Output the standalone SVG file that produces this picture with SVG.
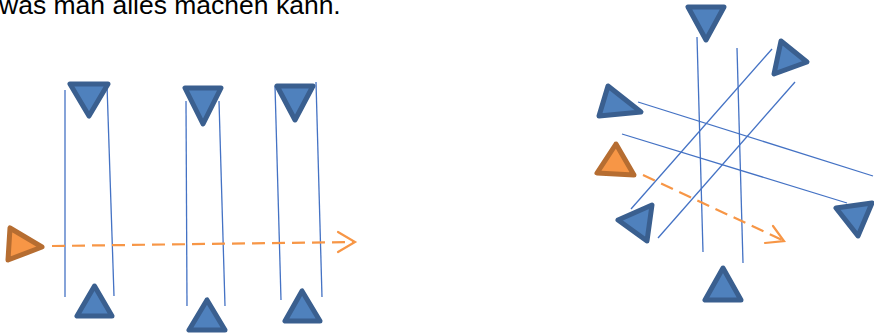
<svg xmlns="http://www.w3.org/2000/svg" width="874" height="334" viewBox="0 0 874 334">
<defs>
<style>
.tb{fill:#4F81BD;stroke:#3A5F8F;stroke-width:5;stroke-linejoin:round}
.to{fill:#F79646;stroke:#B66D31;stroke-width:5;stroke-linejoin:round}
.ln{stroke:#4472C4;stroke-width:1.3;fill:none}
.da{stroke:#F79646;stroke-width:2.2;fill:none;stroke-dasharray:13 7}
.ah{stroke:#F79646;stroke-width:2.2;fill:none;stroke-linecap:round}
.tx{font-family:'Liberation Sans',Arial,sans-serif;font-size:26.5px;fill:#000}
</style>
</defs>
<rect width="874" height="334" fill="#fff"/>
<text class="tx" x="-1" y="13.5">was man alles machen kann.</text>
<g id="connectors">
<line class="ln" x1="65" y1="90" x2="65" y2="297"/>
<line class="ln" x1="107" y1="85" x2="114" y2="296"/>
<line class="ln" x1="186" y1="101" x2="187" y2="306"/>
<line class="ln" x1="219" y1="101" x2="225" y2="306"/>
<line class="ln" x1="275" y1="86" x2="281" y2="300"/>
<line class="ln" x1="316" y1="82" x2="322" y2="297"/>
<line class="da" x1="52" y1="246" x2="353" y2="242"/>
<polyline class="ah" points="338,232 355,242 338,252"/>
<line class="ln" x1="697" y1="37" x2="703" y2="252"/>
<line class="ln" x1="737" y1="48" x2="743" y2="263"/>
<line class="ln" x1="772" y1="49" x2="631" y2="209"/>
<line class="ln" x1="795" y1="82" x2="658" y2="238"/>
<line class="ln" x1="638" y1="102" x2="873" y2="176"/>
<line class="ln" x1="622" y1="134" x2="847" y2="203"/>
<line class="da" x1="643" y1="175" x2="782" y2="240"/>
<polyline class="ah" points="773,226 784,241 765,243"/>
</g>
<g id="t1"><polygon class="tb" points="70,84 108,84 89,116"/></g>
<g id="t2"><polygon class="tb" points="185,88 221,88 203,124"/></g>
<g id="t3"><polygon class="tb" points="277,86 313,86 295,120"/></g>
<g id="b1"><polygon class="tb" points="94.5,286 77,316 112,316"/></g>
<g id="b2"><polygon class="tb" points="207,300 189,330 225,330"/></g>
<g id="b3"><polygon class="tb" points="302,291 285,321 320,321"/></g>
<g id="o1"><polygon class="to" points="10,228 8,260 42,247"/></g>
<g id="r1"><polygon class="tb" points="688,7 724,7 706,40"/></g>
<g id="r2"><polygon class="tb" points="781,41 807,62 774,74"/></g>
<g id="r3"><polygon class="tb" points="608,86 641,112 599,116"/></g>
<g id="o2"><polygon class="to" points="616,144 597,173 634,175"/></g>
<g id="r4"><polygon class="tb" points="618,220 652,205 647,241"/></g>
<g id="r5"><polygon class="tb" points="836,208 872,203 858,236"/></g>
<g id="r6"><polygon class="tb" points="723,268 705,300 741,300"/></g>
</svg>
